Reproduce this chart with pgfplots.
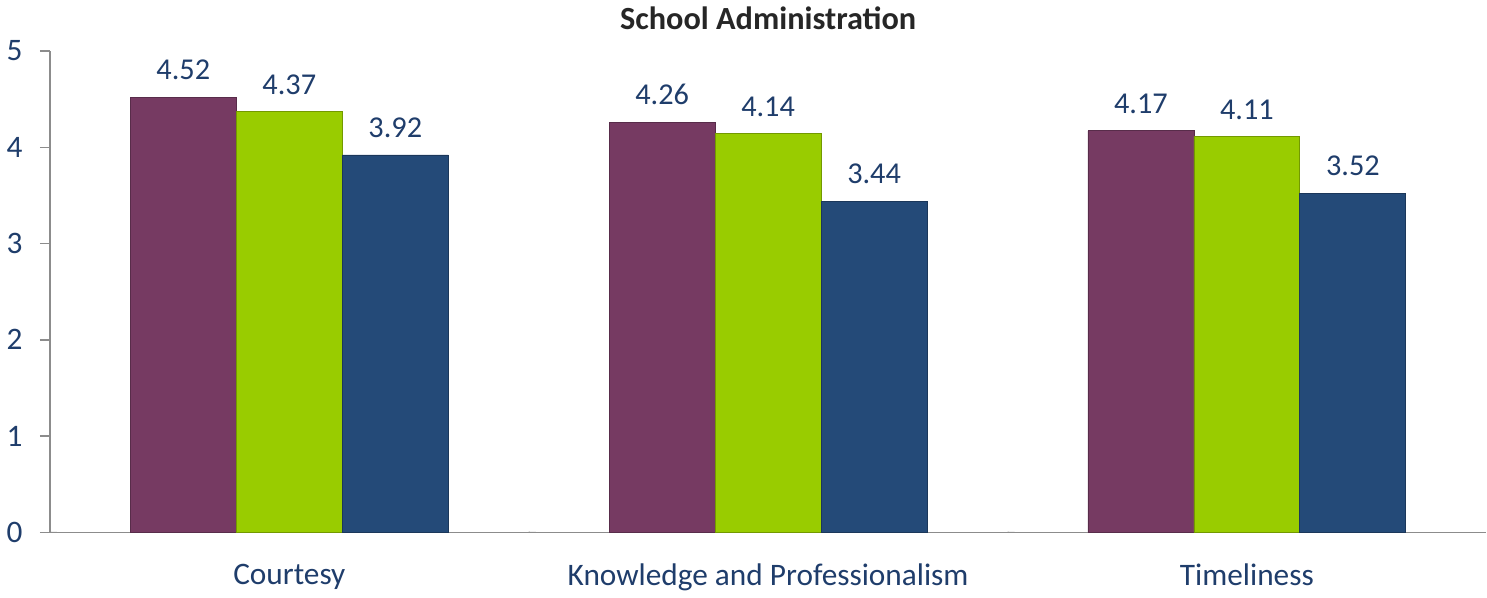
\documentclass[border=0pt]{standalone}
\usepackage{pgfplots}
\pgfplotsset{compat=1.18}
\usepackage{fontspec}
\setmainfont{Carlito}

\definecolor{barpurple}{HTML}{763A62}
\definecolor{bargreen}{HTML}{99CC00}
\definecolor{barblue}{HTML}{244A78}
\definecolor{txtblue}{HTML}{1F3D6B}
\definecolor{axisgray}{HTML}{8C8C8C}

\begin{document}
\begin{tikzpicture}
\begin{axis}[
    width=711.5pt, height=238.5pt, scale only axis,
    ybar=0pt, bar width=52.5pt,
    xmin=-0.5, xmax=2.5, ymin=0, ymax=5,
    xtick={0,1,2},
    xticklabels={Courtesy, Knowledge and Professionalism, Timeliness},
    ytick={0,1,2,3,4,5},
    axis x line*=bottom, axis y line*=left,
    axis line style={draw=axisgray, line width=0.7pt},
    xtick style={draw=none},
    ytick style={draw=axisgray, line width=0.7pt},
    tick align=outside, major tick length=5pt,
    /pgf/number format/assume math mode=true,
    xticklabel style={font=\fontsize{15.5}{18}\selectfont, text=txtblue, yshift=-7pt},
    yticklabel style={font=\fontsize{15.5}{18}\selectfont, text=txtblue, xshift=-5pt},
    title={School Administration},
    title style={font=\bfseries\fontsize{16}{19}\selectfont, text=black!85, yshift=1pt},
    nodes near coords,
    nodes near coords style={font=\fontsize{15}{18}\selectfont, text=txtblue,
        /pgf/number format/fixed, /pgf/number format/precision=2,
        /pgf/number format/fixed zerofill},
    every node near coord/.append style={anchor=south, yshift=5pt},
  ]
  \addplot[fill=barpurple, draw=barpurple!75!black] coordinates {(0,4.52) (1,4.26) (2,4.17)};
  \addplot[fill=bargreen, draw=bargreen!75!black] coordinates {(0,4.37) (1,4.14) (2,4.11)};
  \addplot[fill=barblue, draw=barblue!75!black] coordinates {(0,3.92) (1,3.44) (2,3.52)};
  % category separators below the axis
  \draw[axisgray, line width=0.7pt] (axis cs:-0.5,0) -- ++(0,-5pt);
  \draw[axisgray, line width=0.7pt] (axis cs:0.5,0) -- ++(0,-5pt);
  \draw[axisgray, line width=0.7pt] (axis cs:1.5,0) -- ++(0,-5pt);
  \path (rel axis cs:1,0) ++(6pt,0);
\end{axis}
\end{tikzpicture}
\end{document}
